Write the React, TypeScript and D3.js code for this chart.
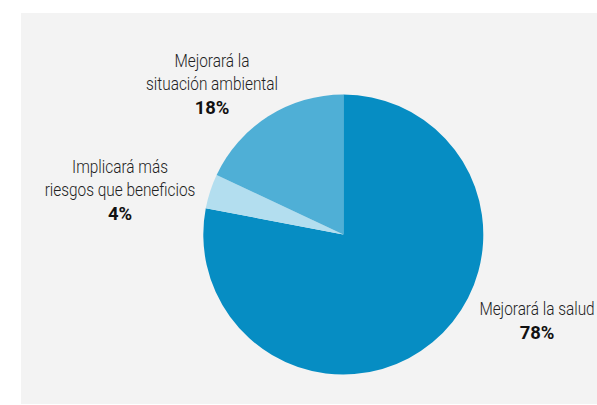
import React from "react";
import * as d3 from "d3";

// Survey answers and their shares (%), drawn clockwise from 12 o'clock
const categories: string[][] = [
  ["Mejorará la salud"],
  ["Implicará más", "riesgos que beneficios"],
  ["Mejorará la", "situación ambiental"],
];
const values: number[] = [78, 4, 18];
const colors: string[] = ["#068dc3", "#b3deef", "#4fafd6"];

// Label anchor (center of the label block) for each slice
const labelPos: [number, number][] = [
  [537, 315],
  [120, 173],
  [212, 67],
];

const W = 597;
const H = 405;
const cx = 343.3;
const cy = 234.5;
const R = 140;
const lineGap = 23;
const condense = 0.81;

export default function App() {
  const pie = d3
    .pie<number>()
    .sort(null)
    .value((d) => d)
    .startAngle(0)
    .endAngle(2 * Math.PI);
  const arcs = pie(values);
  const arc = d3.arc<d3.PieArcDatum<number>>().innerRadius(0).outerRadius(R);

  return (
    <svg
      width={W}
      height={H}
      style={{ position: "absolute", left: 0, top: 0, display: "block" }}
    >
      <rect x={0} y={0} width={W} height={H} fill="#ffffff" />
      <rect x={21} y={13} width={W - 21} height={391} fill="#f3f3f3" />
      <g transform={`translate(${cx},${cy})`}>
        {arcs.map((a, i) => (
          <path key={i} d={arc(a) ?? ""} fill={colors[i]} />
        ))}
      </g>
      {categories.map((lines, i) => {
        const [x, y] = labelPos[i];
        return (
          <g key={i}>
            {lines.map((l, j) => (
              <text
                key={j}
                transform={`translate(${x},${y + j * lineGap}) scale(${condense},1)`}
                textAnchor="middle"
                fontFamily="Roboto, sans-serif"
                fontWeight={300}
                fontSize={19}
                fill="#222222"
              >
                {l}
              </text>
            ))}
            <text
              transform={`translate(${x},${y + lines.length * lineGap + 1}) scale(0.97,1)`}
              textAnchor="middle"
              fontFamily="Roboto, sans-serif"
              fontWeight="bold"
              fontSize={19}
              fill="#111111"
            >
              {`${values[i]}%`}
            </text>
          </g>
        );
      })}
    </svg>
  );
}
